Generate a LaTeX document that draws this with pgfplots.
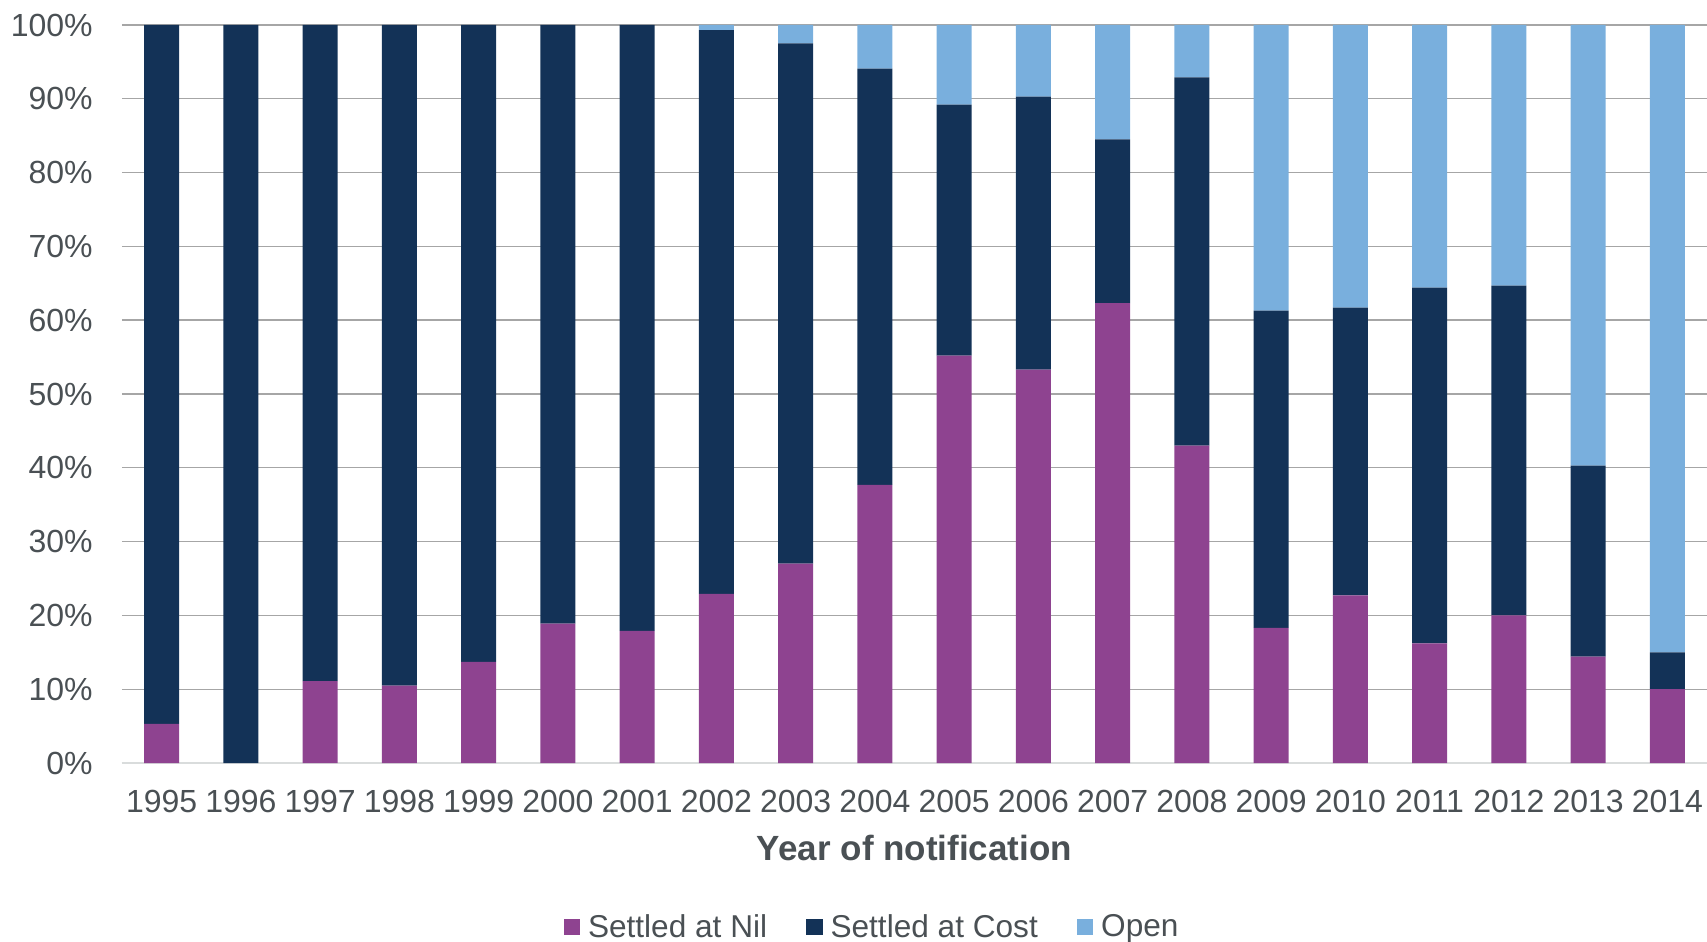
\documentclass[border=0pt]{standalone}
\usepackage{pgfplots}
\pgfplotsset{compat=1.18}
\usepackage{pgfplotstable}
\usepackage{fontspec}
\setmainfont{Liberation Sans}
\definecolor{nilc}{RGB}{142,67,144}
\definecolor{costc}{RGB}{19,50,87}
\definecolor{openc}{RGB}{121,175,221}
\definecolor{txtc}{RGB}{74,80,84}
\definecolor{gridc}{RGB}{166,166,166}
\definecolor{basec}{RGB}{217,220,220}
\pgfplotstableread{
x nil cost open
0 5.3 94.7 0
1 0 100 0
2 11.1 88.9 0
3 10.5 89.5 0
4 13.7 86.3 0
5 18.9 81.1 0
6 17.9 82.1 0
7 22.9 76.4 0.7
8 27.0 70.5 2.5
9 37.7 56.4 5.9
10 55.2 34.0 10.8
11 53.3 37.0 9.7
12 62.3 22.2 15.5
13 43.0 49.9 7.1
14 18.3 43.0 38.7
15 22.7 39.0 38.3
16 16.2 48.2 35.6
17 20.0 44.7 35.3
18 14.4 25.9 59.7
19 10.0 5.0 85.0
}\data
\begin{document}
\begin{tikzpicture}
\begin{axis}[
  scale only axis, width=792.5bp, height=369bp,
  ybar stacked, bar width=17.5bp,
  xmin=-0.5, xmax=19.5, ymin=0, ymax=100,
  xtick={0,...,19},
  xticklabels={1995,1996,1997,1998,1999,2000,2001,2002,2003,2004,2005,2006,2007,2008,2009,2010,2011,2012,2013,2014},
  ytick={0,10,...,100},
  yticklabels={0\%,10\%,20\%,30\%,40\%,50\%,60\%,70\%,80\%,90\%,100\%},
  major tick length=0pt,
  tick label style={font=\fontsize{16bp}{19bp}\selectfont, text=txtc},
  xticklabel style={anchor=north, inner sep=0pt, yshift=-13.5bp},
  yticklabel style={anchor=east, inner sep=0pt, xshift=-14.5bp},
  ymajorgrids, grid style={draw=gridc, line width=0.7bp},
  axis x line*=bottom, axis y line*=left,
  x axis line style={draw=basec, line width=1.3bp, -},
  y axis line style={draw=none},
  xlabel={Year of notification},
  xlabel style={at={(rel axis cs:0.5,0)}, anchor=center, yshift=-42.5bp, font=\fontsize{17.5bp}{21bp}\selectfont\bfseries, text=txtc},
  legend style={at={(rel axis cs:0.4726,0)}, anchor=south, yshift=-90.75bp, draw=none, fill=none,
    legend columns=3, font=\fontsize{15.8bp}{19bp}\selectfont, text=txtc,
    nodes={inner sep=0pt},
    /tikz/every odd column/.style={column sep=4bp},
    /tikz/every even column/.style={column sep=19.5bp}},
  legend image code/.code={\fill[#1] (0bp,-4bp) rectangle (8.2bp,4.2bp);},
]
\addplot[fill=nilc, draw=none] table[x=x, y=nil] {\data};
\addplot[fill=costc, draw=none] table[x=x, y=cost] {\data};
\addplot[fill=openc, draw=none] table[x=x, y=open] {\data};
\legend{Settled at Nil, Settled at Cost, Open}
\coordinate (bl) at (rel axis cs:0,0);
\coordinate (tr) at (rel axis cs:1,1);
\end{axis}
\pgfresetboundingbox
\path[use as bounding box] ([xshift=-61bp,yshift=-89.5bp]bl) rectangle ([yshift=12.5bp]tr);
\end{tikzpicture}
\end{document}
